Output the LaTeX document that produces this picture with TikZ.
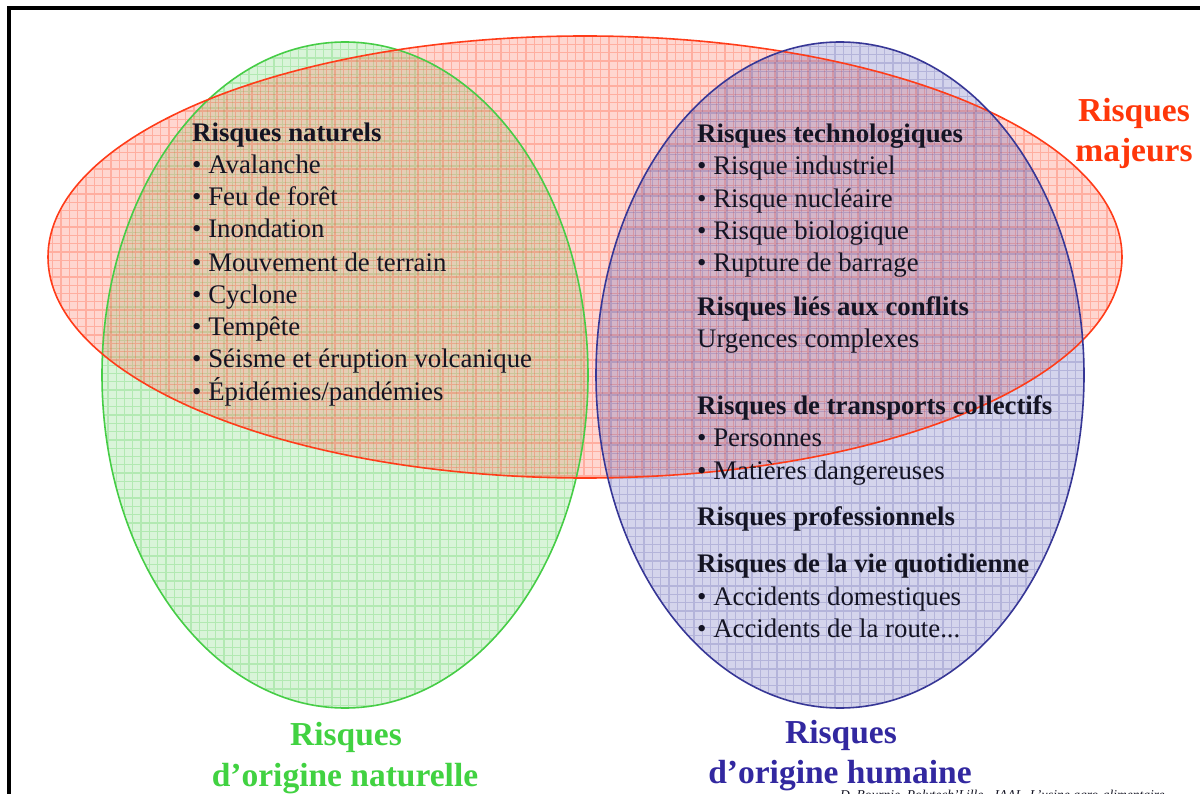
\documentclass[tikz,border=0pt]{standalone}
\usepackage{fontspec}
\setmainfont{Liberation Serif}
\definecolor{redline}{RGB}{255,60,25}
\definecolor{redfill}{RGB}{255,120,100}
\definecolor{greenline}{RGB}{70,205,70}
\definecolor{greenfill}{RGB}{110,215,110}
\definecolor{blueline}{RGB}{55,55,150}
\definecolor{bluefill}{RGB}{85,85,180}
\definecolor{inktext}{RGB}{20,20,35}
\definecolor{redlabel}{RGB}{255,55,10}
\definecolor{greenlabel}{RGB}{65,210,65}
\definecolor{bluelabel}{RGB}{50,40,160}

\tikzset{
  body/.style={anchor=base west, inner sep=0pt, text=inktext,
    font=\fontsize{26.8}{32}\selectfont},
  biglabel/.style={inner sep=0pt, anchor=base,
    font=\fontsize{33.5}{40}\selectfont\bfseries},
  outline/.style={line width=1.6pt},
  hatch/.style={line width=1.3pt, opacity=0.26},
}

\begin{document}
\begin{tikzpicture}[x=1pt,y=-1pt]
\useasboundingbox (0,0) rectangle (1200,794);
\fill[white] (0,0) rectangle (1200,794);

% frame of the slide
\draw[line width=4pt] (9,800) -- (9,8) -- (1205,8);

% the three sets: fill and squared hatching
\begin{scope}
  \clip (345,375) ellipse [x radius=243pt, y radius=333pt];
  \fill[greenfill, opacity=0.26] (0,0) rectangle (1200,794);
  \draw[greenline, hatch, step=8.3pt] (0,0) grid (1200,794);
\end{scope}
\begin{scope}
  \clip (585,257) ellipse [x radius=537pt, y radius=221pt];
  \fill[redfill, opacity=0.3] (0,0) rectangle (1200,794);
  \draw[redline, hatch, step=8.3pt, shift={(3pt,-3pt)}] (0,0) grid (1200,794);
\end{scope}
\begin{scope}
  \clip (840,375) ellipse [x radius=244pt, y radius=333pt];
  \fill[bluefill, opacity=0.25] (0,0) rectangle (1200,794);
  \draw[blueline, hatch, opacity=0.2, step=8.3pt, shift={(5pt,-5pt)}] (0,0) grid (1200,794);
\end{scope}

\draw[greenline, outline] (345,375) ellipse [x radius=243pt, y radius=333pt];
\draw[redline, outline] (585,257) ellipse [x radius=537pt, y radius=221pt];
\draw[blueline, outline] (840,375) ellipse [x radius=244pt, y radius=333pt];

% natural hazards
\node[body] (nat0) at (192,142) {\textbf{Risques naturels}};
\node[body] (nat1) at (192,174) {• Avalanche};
\node[body] (nat2) at (192,206) {• Feu de forêt};
\node[body] (nat3) at (192,238) {• Inondation};
\node[body] (nat4) at (192,272) {• Mouvement de terrain};
\node[body] (nat5) at (192,304) {• Cyclone};
\node[body] (nat6) at (192,336) {• Tempête};
\node[body] (nat7) at (192,368) {• Séisme et éruption volcanique};
\node[body] (nat8) at (192,400) {• Épidémies/pandémies};

% human-made hazards
\node[body] (hum0)  at (697,143) {\textbf{Risques technologiques}};
\node[body] (hum1)  at (697,175) {• Risque industriel};
\node[body] (hum2)  at (697,208) {• Risque nucléaire};
\node[body] (hum3)  at (697,240) {• Risque biologique};
\node[body] (hum4)  at (697,272) {• Rupture de barrage};
\node[body] (hum5)  at (697,316) {\textbf{Risques liés aux conflits}};
\node[body] (hum6)  at (697,348) {Urgences complexes};
\node[body] (hum7)  at (697,414) {\textbf{Risques de transports collectifs}};
\node[body] (hum8)  at (697,446) {• Personnes};
\node[body] (hum9)  at (697,479) {• Matières dangereuses};
\node[body] (hum10) at (697,525) {\textbf{Risques professionnels}};
\node[body] (hum11) at (697,572) {\textbf{Risques de la vie quotidienne}};
\node[body] (hum12) at (697,605) {• Accidents domestiques};
\node[body] (hum13) at (697,637) {• Accidents de la route...};

% set labels
\node[biglabel, text=redlabel] (major1) at (1134,122) {Risques};
\node[biglabel, text=redlabel] (major2) at (1134,162) {majeurs};
\node[biglabel, text=greenlabel] (natural1) at (346,745) {Risques};
\node[biglabel, text=greenlabel] (natural2) at (345,786) {d’origine naturelle};
\node[biglabel, text=bluelabel] (human1) at (841,743) {Risques};
\node[biglabel, text=bluelabel] (human2) at (840,783) {d’origine humaine};

% footer
\node[anchor=base west, inner sep=0pt, text=inktext, font=\fontsize{13.5}{15}\selectfont\itshape]
  (credit) at (840,799) {D. Bournie, Polytech’Lille - IAAL, L’usine agro-alimentaire};
\end{tikzpicture}
\end{document}
